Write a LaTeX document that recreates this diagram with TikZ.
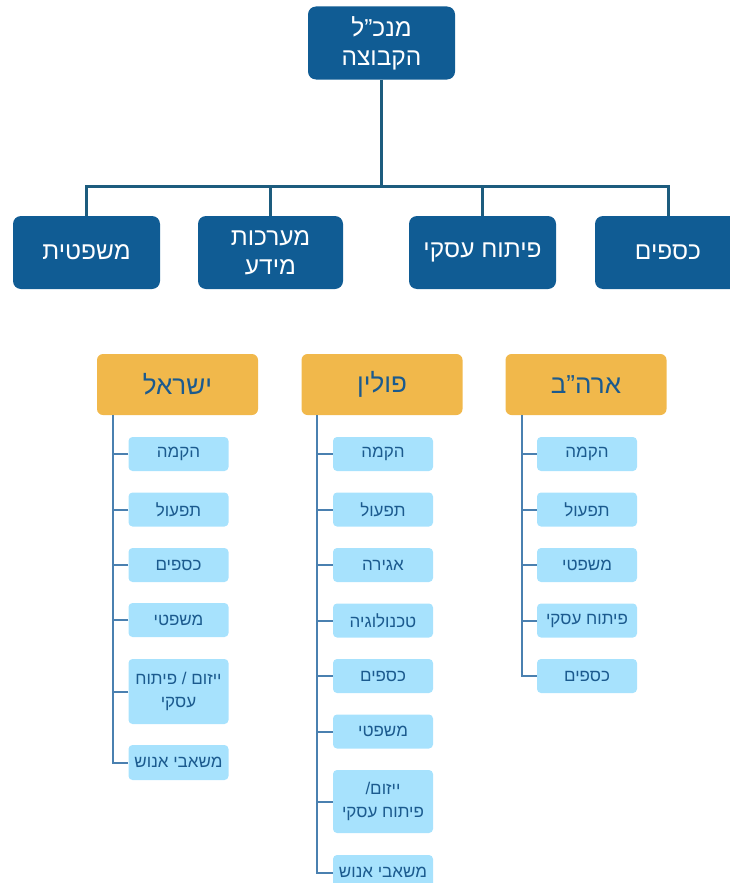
\documentclass[tikz,border=0pt]{standalone}
\usepackage{fontspec}
\newfontfamily\heb[Script=Hebrew]{Liberation Sans}
\TeXXeTstate=1
\definecolor{darkbox}{HTML}{105C94}
\definecolor{orangebox}{HTML}{F1B84B}
\definecolor{itembox}{HTML}{A7E2FD}
\definecolor{navytext}{HTML}{1B5A8E}
\definecolor{busline}{HTML}{1D5C7E}
\definecolor{spineline}{HTML}{4A80B0}
\tikzset{
  topbox/.style={fill=darkbox, text=white, rounded corners=8pt, inner sep=0pt,
    minimum height=73pt, align=center, font=\heb\fontsize{24.5}{29}\selectfont},
  countrybox/.style={fill=orangebox, text=navytext, rounded corners=6pt, inner sep=0pt,
    minimum width=161pt, minimum height=61pt, font=\heb\fontsize{26}{30}\selectfont},
  itemnode/.style={fill=itembox, text=navytext, rounded corners=4pt, inner sep=0pt,
    minimum width=100pt, minimum height=34pt, align=center, font=\heb\fontsize{17}{22.5}\selectfont},
  bus/.style={draw=busline, line width=3pt},
  spine/.style={draw=spineline, line width=2pt},
}
\begin{document}
\begin{tikzpicture}[x=1pt,y=-1pt]
\useasboundingbox (0,0) rectangle (730,883);
\clip (0,0) rectangle (730,883);
% top
\node[topbox, minimum width=147pt] (ceo) at (381.5,43) {\beginR מנכ”ל\endR\\\beginR הקבוצה\endR};
% row 2
\node[topbox, minimum width=147pt] (legal) at (86.5,252.5) {\beginR משפטית\endR};
\node[topbox, minimum width=145pt] (it) at (270.5,252.5) {\beginR מערכות\endR\\\beginR מידע\endR};
\node[topbox, minimum width=147pt] (bizdev) at (482.5,252.5) {\beginR פיתוח עסקי\endR};
\node[topbox, minimum width=146pt] (fin) at (668,252.5) {\beginR כספים\endR};
\coordinate (busy) at (0,186);
\draw[bus] (ceo.south) -- (ceo.south |- busy);
\draw[bus] (legal.north) -- (legal.north |- busy) -- (fin.north |- busy) -- (fin.north);
\draw[bus] (it.north) -- (it.north |- busy);
\draw[bus] (bizdev.north) -- (bizdev.north |- busy);
% countries
\node[countrybox] (isr) at (177.5,384.5) {\beginR ישראל\endR};
\node[countrybox] (pol) at (382,384.5) {\beginR פולין\endR};
\node[countrybox] (usa) at (586,384.5) {\beginR ארה”ב\endR};
% Israel items
\node[itemnode] (i1) at (178.5,454) {\beginR הקמה\endR};
\node[itemnode] (i2) at (178.5,509.5) {\beginR תפעול\endR};
\node[itemnode] (i3) at (178.5,565) {\beginR כספים\endR};
\node[itemnode] (i4) at (178.5,620) {\beginR משפטי\endR};
\node[itemnode, minimum height=65pt] (i5) at (178.5,691.5) {\beginR ייזום / פיתוח\endR\\\beginR עסקי\endR};
\node[itemnode, minimum height=35pt] (i6) at (178.5,762.5) {\beginR משאבי אנוש\endR};
% Poland items
\node[itemnode] (p1) at (383,454) {\beginR הקמה\endR};
\node[itemnode] (p2) at (383,509.5) {\beginR תפעול\endR};
\node[itemnode] (p3) at (383,565) {\beginR אגירה\endR};
\node[itemnode] (p4) at (383,620.5) {\beginR טכנולוגיה\endR};
\node[itemnode] (p5) at (383,676) {\beginR כספים\endR};
\node[itemnode] (p6) at (383,731.5) {\beginR משפטי\endR};
\node[itemnode, minimum height=63pt] (p7) at (383,801.5) {\beginR ייזום/\endR\\\beginR פיתוח עסקי\endR};
\node[itemnode, minimum height=35pt] (p8) at (383,872.5) {\beginR משאבי אנוש\endR};
% USA items
\node[itemnode] (u1) at (587,454) {\beginR הקמה\endR};
\node[itemnode] (u2) at (587,509.5) {\beginR תפעול\endR};
\node[itemnode] (u3) at (587,565) {\beginR משפטי\endR};
\node[itemnode] (u4) at (587,620.5) {\beginR פיתוח עסקי\endR};
\node[itemnode] (u5) at (587,676) {\beginR כספים\endR};
% spines
\coordinate (isx) at (113,0);
\coordinate (psx) at (317,0);
\coordinate (usx) at (522,0);
\draw[spine] (isr.south -| isx) |- (i6.west);
\foreach \n in {i1,i2,i3,i4,i5} \draw[spine] (\n.west) -- (\n.west -| isx);
\draw[spine] (pol.south -| psx) |- (p8.west);
\foreach \n in {p1,p2,p3,p4,p5,p6,p7} \draw[spine] (\n.west) -- (\n.west -| psx);
\draw[spine] (usa.south -| usx) |- (u5.west);
\foreach \n in {u1,u2,u3,u4} \draw[spine] (\n.west) -- (\n.west -| usx);
\end{tikzpicture}
\end{document}
